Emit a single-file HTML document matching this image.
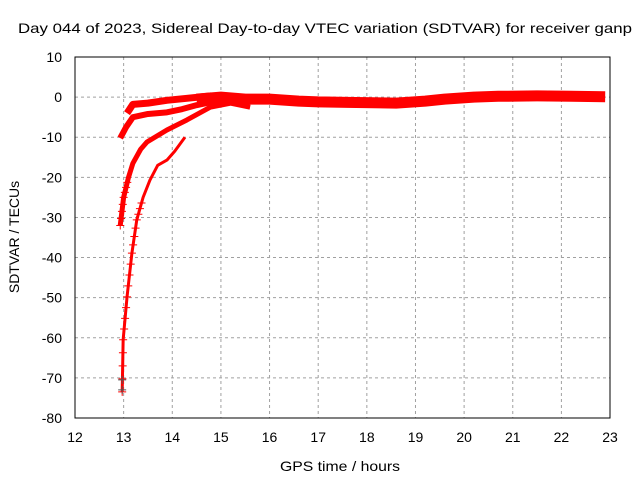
<!DOCTYPE html>
<html><head><meta charset="utf-8"><style>
body{margin:0;background:#fff;}
svg text{font-family:"Liberation Sans",sans-serif;font-size:14px;fill:#000;}
</style></head><body>
<svg id="c" width="640" height="480"></svg>
<script>
const xTicks=[12,13,14,15,16,17,18,19,20,21,22,23];
const yTicks=[10,0,-10,-20,-30,-40,-50,-60,-70,-80];
const seriesTop=[[13.07,-4],[13.19,-1.8],[13.5,-1.5],[13.89,-0.8],[14.3,-0.3],[14.8,0.3]];
const seriesB=[[12.93,-10.2],[13.05,-7.5],[13.19,-5],[13.5,-4.2],[13.89,-3.8],[14.2,-3],[14.5,-2],[14.9,-1],[15.3,-0.5]];
const seriesC=[[12.93,-32],[13.0,-25],[13.1,-20],[13.19,-16.5],[13.35,-13],[13.48,-11.2],[13.89,-8.2],[14.3,-5.7],[14.78,-2.5],[15.2,-1.5],[15.6,-2.5]];
const seriesD=[[12.97,-73.5],[12.99,-60.5],[13.07,-49.8],[13.17,-38.9],[13.27,-30.6],[13.4,-25],[13.54,-20.7],[13.7,-17],[13.89,-15.7],[14.05,-13.5],[14.26,-10]];
const seriesMain=[[14.5,-0.5],[15,0],[15.5,-0.5],[16,-0.5],[16.6,-1],[17,-1.2],[17.6,-1.3],[18.6,-1.5],[19.2,-1],[19.6,-0.5],[20.2,0],[20.7,0.2],[21.5,0.3],[22.2,0.2],[22.9,0.1]];
const X=h=>75+(h-12)*48.64, Y=v=>57+(10-v)*4.011;
const s=document.getElementById('c'),NS='http://www.w3.org/2000/svg';
function mk(t,a,p){const e=document.createElementNS(NS,t);for(const k in a)e.setAttribute(k,a[k]);(p||s).appendChild(e);return e;}
for(const h of xTicks){if(h>12&&h<23){const g=mk('line',{x1:X(h),x2:X(h),y1:57,y2:418,stroke:'#a0a0a0','stroke-dasharray':'3,3'});

}
const t=mk('text',{x:X(h),y:442,'text-anchor':'middle'});t.textContent=h;

}
for(const v of yTicks){if(v<10&&v>-80){const g=mk('line',{x1:75,x2:610,y1:Y(v),y2:Y(v),stroke:'#a0a0a0','stroke-dasharray':'3,3'});

}
const t=mk('text',{x:62,y:Y(v)+5,'text-anchor':'end'});t.textContent=v;

}
const fr=mk('rect',{x:75,y:57,width:535,height:361,fill:'none',stroke:'#000'});


function line(d,w,name){const p=mk('polyline',{points:d.map(q=>X(q[0])+','+Y(q[1])).join(' '),fill:'none',stroke:'#f00','stroke-width':w,'stroke-linejoin':'round','stroke-linecap':'butt'});

}
line(seriesMain,11,'series-main-band');
line(seriesTop,7,'series-top');
line(seriesB,6,'series-b');
line(seriesC,5,'series-c');
line(seriesD,3,'series-d');
function plus(h,v,c){const g=mk('path',{d:`M${X(h)-4},${Y(v)}h8M${X(h)},${Y(v)-4}v8`,stroke:c,'stroke-width':1});

}
for(let i=0;i<seriesD.length-1;i++){const a=seriesD[i],b=seriesD[i+1];if(a[1]>-28)break;for(let k=0;k<4;k++){const f=k/4;plus(a[0]+(b[0]-a[0])*f,a[1]+(b[1]-a[1])*f,'#f00');}}
for(let i=0;i<2;i++){const a=seriesC[i],b=seriesC[i+1];for(let k=0;k<4;k++){const f=k/4;plus(a[0]+(b[0]-a[0])*f,a[1]+(b[1]-a[1])*f,'#f00');}}
plus(12.97,-70.5,'#555');plus(12.97,-73,'#555');
const tt=[['Day 044 of 2023, Sidereal Day-to-day VTEC variation (SDTVAR) for receiver ganp',18,33,'chart-title',614],['GPS time / hours',280,471,'x-axis-title',120]];
for(const [s1,x,y,n,w] of tt){const t=mk('text',{x:x,y:y,textLength:w,lengthAdjust:'spacingAndGlyphs'});t.textContent=s1;

}
const yt=mk('text',{x:0,y:0,'text-anchor':'middle',transform:'translate(19,237) rotate(-90)'});yt.textContent='SDTVAR / TECUs';


</script>
</body></html>
